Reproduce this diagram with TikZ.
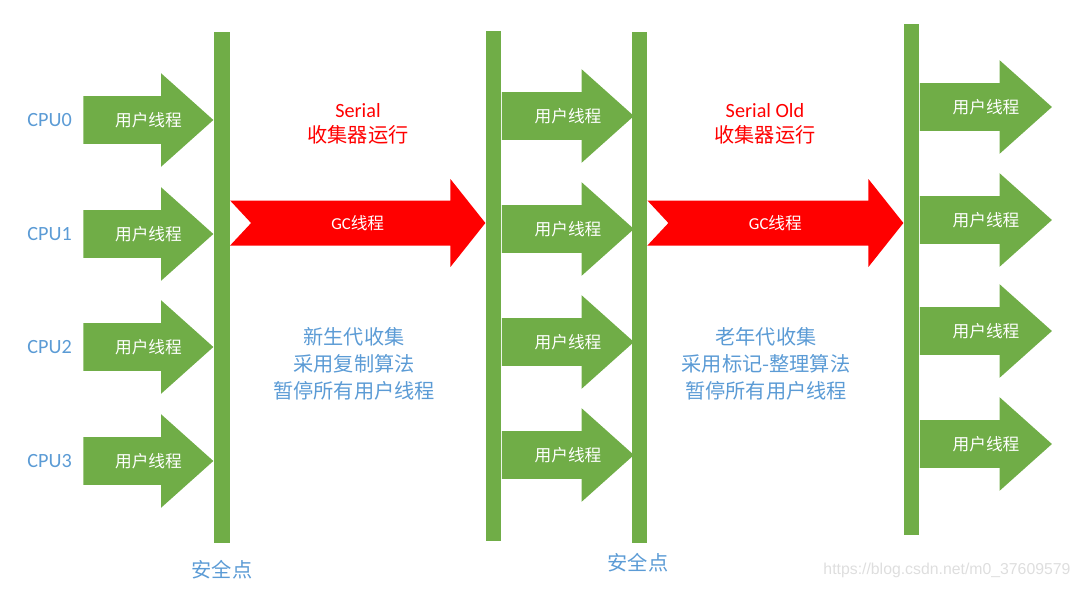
\documentclass[tikz,border=0pt]{standalone}
\usepackage{fontspec}
\setmainfont{Carlito}
\newfontfamily\cjk{Noto Sans CJK SC}
\newfontfamily\wmfont{Liberation Sans}
\usetikzlibrary{
  arrows.meta,
  positioning,
  calc,
  shapes.arrows
}
\definecolor{ThreadGreen}{RGB}{112,173,71}
\definecolor{GcRed}{RGB}{255,0,0}
\definecolor{NoteBlue}{RGB}{91,155,213}
\definecolor{MarkGray}{RGB}{222,222,222}
\tikzset{
  safebar/.style={fill=ThreadGreen,minimum width=3.1mm,minimum height=102.2mm,inner sep=0pt},
  userthread/.style={single arrow,fill=ThreadGreen,inner xsep=0pt,inner ysep=0pt,text height=16.95pt,text depth=9.75pt,single arrow head extend=4.6mm,single arrow tip angle=83.6,minimum height=26.4mm},
  threadtext/.style={text=white,font=\fontsize{9.5}{11}\selectfont\cjk},
  gcthread/.style={fill=GcRed},
  gclabel/.style={text=white,font=\fontsize{9.5}{11}\selectfont},
  cpulabel/.style={text=NoteBlue,font=\fontsize{11.5}{14}\selectfont},
  gcnote/.style={text=GcRed,align=center,font=\fontsize{11.5}{14.6}\selectfont},
  phasenote/.style={text=NoteBlue,align=center,font=\fontsize{11.5}{15.2}\selectfont\cjk},
  safelabel/.style={text=NoteBlue,font=\fontsize{11.5}{14}\selectfont\cjk},
  urlmark/.style={text=MarkGray,font=\wmfont\fontsize{9}{11}\selectfont}
}

\begin{document}
\begin{tikzpicture}[x=0.02cm,y=-0.02cm,node distance=1mm]
\useasboundingbox (0,0) rectangle (1080,589);
\node[safebar] (safe1) at (222,287.5) {};
\node[safebar] (safe2) at (493.5,286) {};
\node[safebar] (safe3) at (639.3,287.5) {};
\node[safebar] (safe4) at (911.5,279.5) {};
\foreach \y [count=\i from 0] in {120,234,347,461}{
  \node[userthread,anchor=tip,minimum height=26mm] (run\i) at (safe1.west |- 0,\y) {};
  \node[threadtext] (runtext\i) at ($(run\i.tail)!0.5!(run\i.tip)$) {用户线程};
  \node[cpulabel,left=of run\i.tail] (cpu\i) {CPU\i};
}
\foreach \y [count=\i from 0] in {116,229,342,455}{
  \node[userthread,anchor=tail] (resume\i) at (safe2.east |- 0,\y) {};
  \node[threadtext] (resumetext\i) at ($(resume\i.tail)!0.5!(resume\i.tip)$) {用户线程};
}
\foreach \y [count=\i from 0] in {107,220,331,444}{
  \node[userthread,anchor=tail] (final\i) at (safe4.east |- 0,\y) {};
  \node[threadtext] (finaltext\i) at ($(final\i.tail)!0.5!(final\i.tip)$) {用户线程};
}
\foreach \s/\t/\n in {safe1/safe2/gc1,safe3/safe4/gc2}{
  \coordinate (s\n) at (\s.east |- 0,223);
  \coordinate (t\n) at (\t.west |- 0,223);
  \fill[gcthread] ($(s\n)+(0,4.5mm)$) -- ($(t\n)+(-7mm,4.5mm)$) -- ($(t\n)+(-7mm,8.8mm)$) -- (t\n)
    -- ($(t\n)+(-7mm,-8.8mm)$) -- ($(t\n)+(-7mm,-4.5mm)$) -- ($(s\n)+(0,-4.5mm)$) -- ($(s\n)+(4.2mm,0)$) -- cycle;
  \node[gclabel] (\n) at ($(s\n)!0.5!(t\n)$) {GC{\cjk 线程}};
}
\node[gcnote] (serial) at (358,124) {Serial\\{\cjk 收集器运行}};
\node[gcnote] (serialold) at (765,124) {Serial Old\\{\cjk 收集器运行}};
\node[phasenote] (young) at (354,364) {新生代收集\\采用复制算法\\暂停所有用户线程};
\node[phasenote] (old) at (766,364) {老年代收集\\采用标记-整理算法\\暂停所有用户线程};
\node[safelabel] (point1) at (222,570) {安全点};
\node[safelabel] (point2) at (638,563) {安全点};
\node[urlmark] (url) at (947,570) {https://blog.csdn.net/m0\_37609579};
\end{tikzpicture}
\end{document}
